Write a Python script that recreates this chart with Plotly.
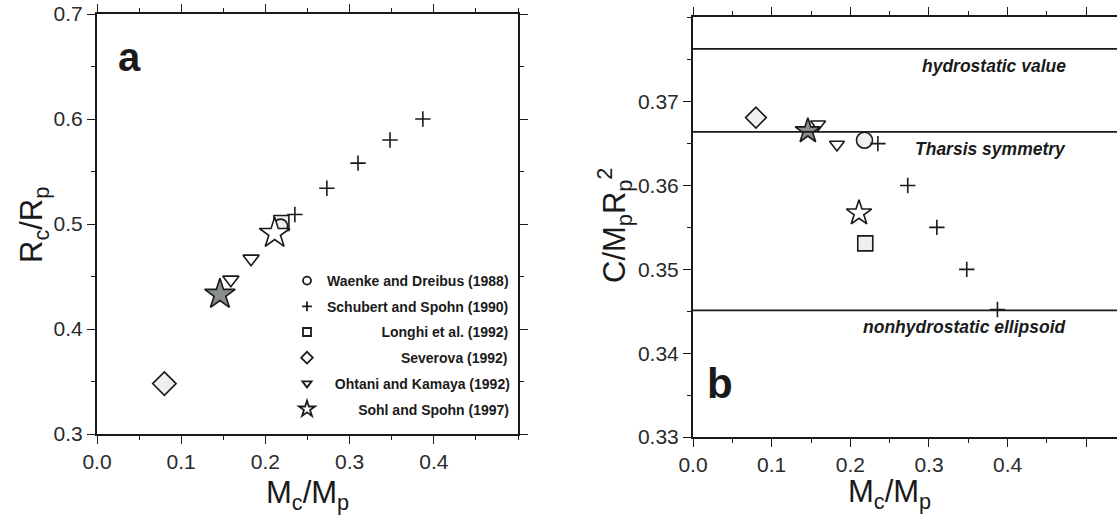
import plotly.graph_objects as go

# Mars core models: core mass fraction, core radius fraction, moment of inertia factor
waenke_mc = [0.218]
waenke_rc = [0.498]
waenke_c = [0.3654]

schubert_mc = [0.235, 0.273, 0.310, 0.348, 0.387]
schubert_rc = [0.509, 0.534, 0.558, 0.580, 0.600]
schubert_c = [0.3650, 0.3600, 0.3550, 0.3500, 0.3452]

longhi_mc = [0.219]
longhi_rc = [0.501]
longhi_c = [0.3531]

severova_mc = [0.080]
severova_rc = [0.348]
severova_c = [0.3681]

ohtani_mc = [0.159, 0.183]
ohtani_rc = [0.447, 0.467]
ohtani_c = [0.3673, 0.3649]

sohl_mc = [0.211, 0.146]
sohl_rc = [0.491, 0.433]
sohl_c = [0.3567, 0.3665]

# reference values of C/MR^2 (panel b)
ref_values = [0.3763, 0.3664, 0.3451]
ref_labels = ["hydrostatic value", "Tharsis symmetry", "nonhydrostatic ellipsoid"]
ref_label_y = [0.3742, 0.3643, 0.3431]

legend_names = [
    "Waenke and Dreibus (1988)",
    "Schubert and Spohn (1990)",
    "Longhi et al. (1992)",
    "Severova (1992)",
    "Ohtani and Kamaya (1992)",
    "Sohl and Spohn (1997)",
]
legend_pad = [0, 0, 14, 19, 2, 8]

FONT = "Liberation Sans, Arial, Helvetica, sans-serif"
INK = "#1a1a1a"
LIGHT = "#eef0ee"

fig = go.Figure()

series = [
    # name, x, y_a, y_b, symbol, size_a, size_b, fill, legend size
    (legend_names[0], waenke_mc, waenke_rc, waenke_c, "circle", 14, 16, [LIGHT], 8),
    (legend_names[1], schubert_mc, schubert_rc, schubert_c, "cross-thin", 11, 11, [INK], 7),
    (legend_names[2], longhi_mc, longhi_rc, longhi_c, "square", 15, 15, [LIGHT], 8),
    (legend_names[3], severova_mc, severova_rc, severova_c, "diamond", 18, 16, [LIGHT], 9),
    (legend_names[4], ohtani_mc, ohtani_rc, ohtani_c, "triangle-down", 14, 13, ["white"], 8),
    (legend_names[5], sohl_mc, sohl_rc, sohl_c, "star", 23, 19, ["white", "#8a8f8c"], 12),
]

order_a = [2, 0, 1, 3, 4, 5]
for i in order_a:
    name, xs, ya, yb, sym, sa, sb, fill, sl = series[i]
    colors = fill * len(xs) if len(fill) == 1 else fill
    line = dict(color=INK, width=1.6)
    fig.add_trace(go.Scatter(
        x=xs, y=ya, mode="markers", xaxis="x", yaxis="y", showlegend=False,
        marker=dict(symbol=sym, size=sa, color=colors, line=line),
        hoverinfo="x+y", name=name,
    ))
    fig.add_trace(go.Scatter(
        x=xs, y=yb, mode="markers", xaxis="x2", yaxis="y2", showlegend=False,
        marker=dict(symbol=sym, size=sb, color=colors, line=line),
        hoverinfo="x+y", name=name,
    ))

# legend-only entries
for i, (name, xs, ya, yb, sym, sa, sb, fill, sl) in enumerate(series):
    fig.add_trace(go.Scatter(
        x=[None], y=[None], mode="markers", xaxis="x", yaxis="y",
        name="\u00a0" * legend_pad[i] + "<b>" + name + "</b>",
        legendgroup=f"g{i}", legendrank=i + 1,
        marker=dict(symbol=sym, size=sl, color="white" if sym != "cross-thin" else INK,
                    line=dict(color=INK, width=1.8)),
    ))

# reference lines in panel b
for v in ref_values:
    fig.add_shape(type="line", xref="x2 domain", yref="y2", x0=0, x1=1, y0=v, y1=v,
                  line=dict(color=INK, width=1.6))

annotations = []
for lab, ly in zip(ref_labels, ref_label_y):
    annotations.append(dict(
        xref="x2", yref="y2", x=0.477, y=ly, xanchor="right", yanchor="middle",
        text="<b><i>" + lab + "</i></b>", showarrow=False,
        font=dict(family=FONT, size=17.5, color=INK),
    ))

title_font = dict(family=FONT, size=31, color=INK)
annotations += [
    dict(xref="x", yref="y", x=0.039, y=0.659, text="<b>a</b>", showarrow=False,
         xanchor="center", yanchor="middle", font=dict(family=FONT, size=40, color=INK)),
    dict(xref="x2", yref="y2", x=0.034, y=0.3364, text="<b>b</b>", showarrow=False,
         xanchor="center", yanchor="middle", font=dict(family=FONT, size=42, color=INK)),
    dict(xref="paper", yref="paper", x=34 / 1117, y=1 - 225 / 525, textangle=-90,
         xanchor="center", yanchor="middle",
         text="R<sub>c</sub>/R<sub>p</sub>", showarrow=False, font=title_font),
    dict(xref="paper", yref="paper", x=614 / 1117, y=1 - 226 / 525, textangle=-90,
         xanchor="center", yanchor="middle",
         text="C/M<sub>p</sub>R<sub>p</sub><sup>2</sup>", showarrow=False, font=title_font),
    dict(xref="paper", yref="paper", x=307 / 1117, y=1 - 495 / 525,
         xanchor="center", yanchor="middle",
         text="M<sub>c</sub>/M<sub>p</sub>", showarrow=False, font=title_font),
    dict(xref="paper", yref="paper", x=889 / 1117, y=1 - 494 / 525,
         xanchor="center", yanchor="middle",
         text="M<sub>c</sub>/M<sub>p</sub>", showarrow=False, font=title_font),
]

axis_common = dict(
    showline=True, linecolor=INK, linewidth=2, ticks="outside", ticklen=8, tickwidth=1.2,
    tickcolor=INK, showgrid=False, zeroline=False, automargin=False,
    tickfont=dict(family=FONT, size=21, color="#2a2a2a"),
)
minor_common = dict(ticklen=4, ticks="outside", tickcolor=INK, tickwidth=1)

xticks = [0.0, 0.1, 0.2, 0.3, 0.4]
fig.update_layout(
    width=1117, height=525,
    margin=dict(l=0, r=0, t=0, b=0, autoexpand=False),
    paper_bgcolor="white", plot_bgcolor="white",
    xaxis=dict(axis_common, domain=[97 / 1117, 518 / 1117], range=[0, 0.5], anchor="y",
               tickvals=xticks, tickformat=".1f", mirror="allticks",
               minor=dict(minor_common, dtick=0.05, tick0=0)),
    yaxis=dict(axis_common, domain=[1 - 434 / 525, 1 - 14 / 525], range=[0.3, 0.7], anchor="x",
               tickvals=[0.3, 0.4, 0.5, 0.6, 0.7], tickformat=".1f", mirror="allticks",
               minor=dict(minor_common, dtick=0.05, tick0=0.3)),
    xaxis2=dict(axis_common, domain=[693 / 1117, 1.0], range=[0, 0.539], anchor="y2",
                tickvals=xticks + [0.5], ticktext=["0.0", "0.1", "0.2", "0.3", "0.4", ""],
                mirror="allticks",
                minor=dict(minor_common, dtick=0.05, tick0=0)),
    yaxis2=dict(axis_common, domain=[1 - 437 / 525, 1 - 17 / 525], range=[0.33, 0.3801], anchor="x2",
                tickvals=[0.33, 0.34, 0.35, 0.36, 0.37], tickformat=".2f",
                minor=dict(minor_common, dtick=0.005, tick0=0.33)),
    legend=dict(
        x=287 / 1117, y=1 - 265 / 525, xanchor="left", yanchor="top",
        bgcolor="rgba(0,0,0,0)", traceorder="grouped", tracegroupgap=4.5,
        itemsizing="trace",
        font=dict(family=FONT, size=14, color=INK),
    ),
    annotations=annotations,
    showlegend=True,
)

# the page body has a default 8px margin; drop it so the figure fills the window
fig.write_html("out.html", config={"displayModeBar": False},
               post_script="document.body.style.margin='0';")
